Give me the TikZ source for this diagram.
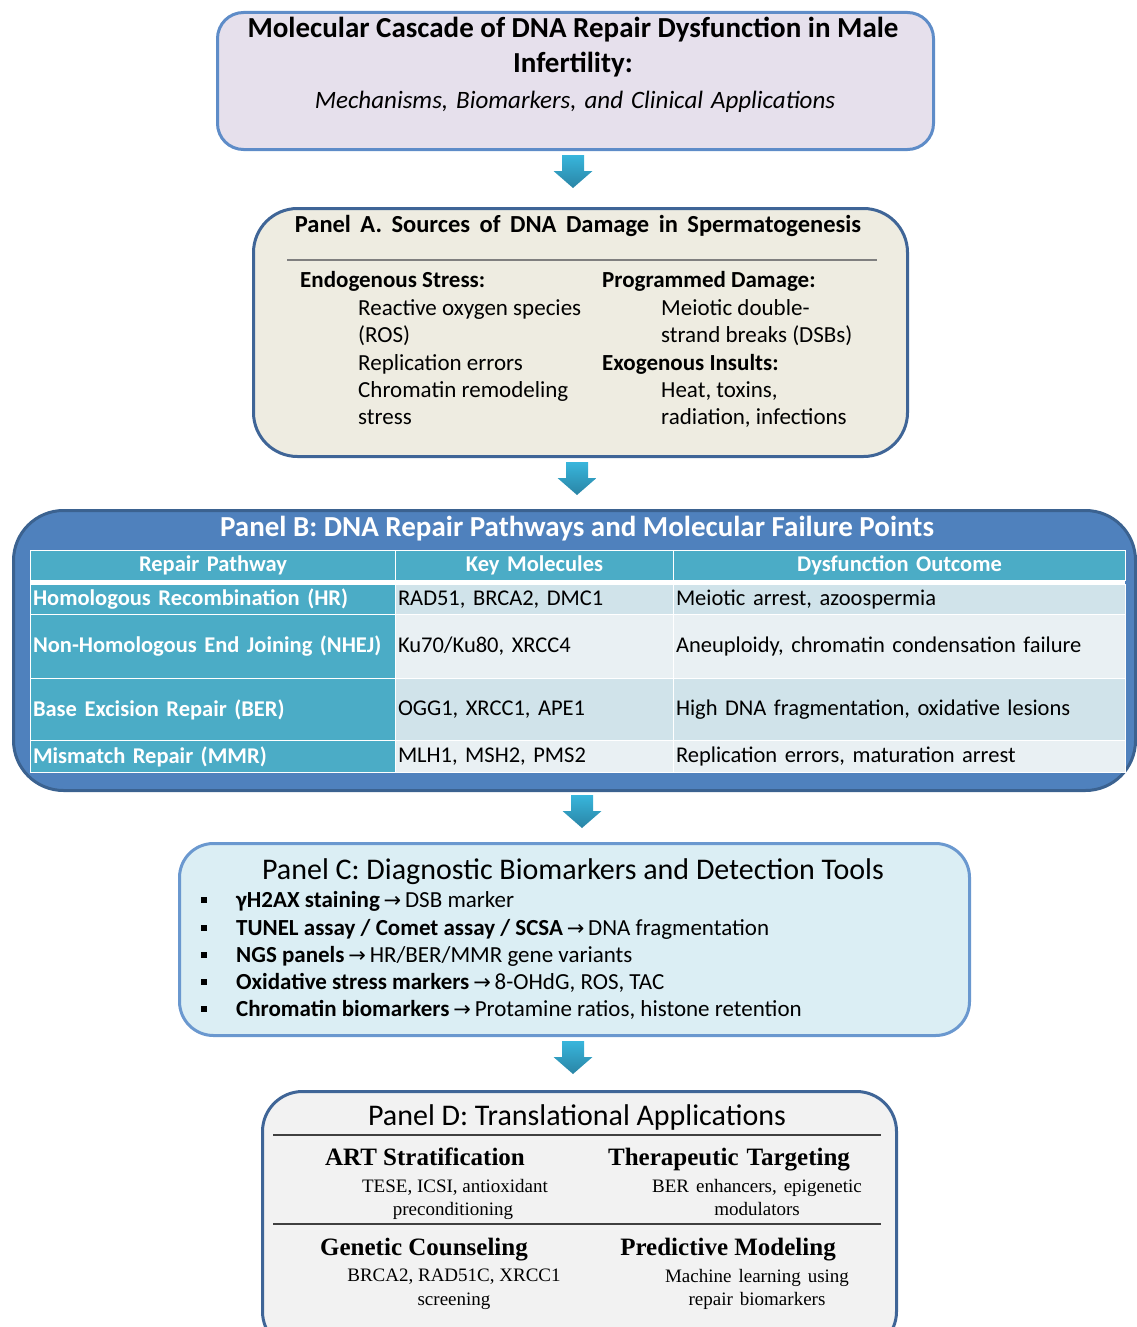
\documentclass[tikz,border=0pt]{standalone}
\usepackage{fontspec}
\setmainfont{Carlito}
\newfontfamily\serifD{Liberation Serif}
\newfontfamily\arrowfont{DejaVu Sans}
\usetikzlibrary{calc}

\definecolor{titlefill}{HTML}{E6E0EC}
\definecolor{titleborder}{HTML}{5E8CC8}
\definecolor{afill}{HTML}{EEECE1}
\definecolor{aborder}{HTML}{3F6597}
\definecolor{bfill}{HTML}{4F81BD}
\definecolor{bborder}{HTML}{3B6290}
\definecolor{tealc}{HTML}{4BACC6}
\definecolor{rowa}{HTML}{D0E3EA}
\definecolor{rowb}{HTML}{E9F0F3}
\definecolor{cfill}{HTML}{DBEEF4}
\definecolor{cborder}{HTML}{6A98CF}
\definecolor{dfill}{HTML}{F2F2F2}
\definecolor{arrtop}{HTML}{38B6DC}
\definecolor{arrbot}{HTML}{2A84A5}
\definecolor{rulegray}{HTML}{7F7F7F}

\newcommand{\arr}{{\arrowfont\fontsize{21}{21}\selectfont →}}

\tikzset{
  x=1pt, y=-1pt,
  wsp/.style={execute at begin node={\spaceskip=#1\relax}},
  panel/.style={rectangle, line width=3pt, anchor=north west, inner sep=0pt},
  txt/.style={inner sep=0pt, anchor=mid west, yshift=-5.5pt, font=\fontsize{23}{27}\selectfont},
  ctxt/.style={inner sep=0pt, anchor=mid, yshift=-5.5pt, font=\fontsize{23}{27}\selectfont},
  bigtxt/.style={ctxt, yshift=-2.5pt},
  cell/.style={rectangle, draw=white, line width=1pt, anchor=north west, inner xsep=2.5pt, inner ysep=0pt, align=left, font=\fontsize{22.5}{26}\selectfont},
  hcell/.style={cell, fill=tealc, text=white, font=\fontsize{22.5}{26}\selectfont\bfseries},
  bullet/.style={rectangle, fill=black, minimum size=6pt, inner sep=0pt},
  dhead/.style={inner sep=0pt, anchor=mid, yshift=-5.5pt, font=\serifD\fontsize{25}{28}\selectfont\bfseries},
  dbody/.style={inner sep=0pt, anchor=mid, yshift=-5pt, font=\serifD\fontsize{19}{22}\selectfont},
  blockarrow/.pic={\shade[top color=arrtop, bottom color=arrbot]
    (-11,0) -- (11,0) -- (11,16) -- (19.5,16) -- (0,33) -- (-19.5,16) -- (-11,16) -- cycle;}
}

\begin{document}
\begin{tikzpicture}
\useasboundingbox (0,0) rectangle (1137,1327);

% ---------- Title box ----------
\node[panel, draw=titleborder, fill=titlefill, rounded corners=26pt,
  minimum width=716pt, minimum height=137pt] (title) at (216,11) {};
\node[bigtxt, font=\fontsize{29}{33}\selectfont\bfseries] (t1) at (573,27) {Molecular Cascade of DNA Repair Dysfunction in Male};
\node[bigtxt, font=\fontsize{29}{33}\selectfont\bfseries] (t2) at (573,62) {Infertility:};
\node[bigtxt, font=\fontsize{25}{29}\selectfont\itshape, wsp=8pt] (t3) at (575,98) {Mechanisms, Biomarkers, and Clinical Applications};

\pic at (573,155) {blockarrow};

% ---------- Panel A ----------
\node[panel, draw=aborder, fill=afill, rounded corners=44pt,
  minimum width=654pt, minimum height=248pt] (pA) at (252,207) {};
\node[ctxt, font=\fontsize{24.5}{28}\selectfont\bfseries, wsp=9.5pt] (aT) at (578,225) {Panel A. Sources of DNA Damage in Spermatogenesis};
\draw[rulegray, line width=1.5pt] (287,260) -- (877,260);
\node[txt, font=\fontsize{23}{27}\selectfont\bfseries] (a1) at (300,280) {Endogenous Stress:};
\node[txt] (a2) at (358,308) {Reactive oxygen species};
\node[txt] (a3) at (358,335) {(ROS)};
\node[txt] (a4) at (358,363) {Replication errors};
\node[txt] (a5) at (358,390) {Chromatin remodeling};
\node[txt] (a6) at (358,417) {stress};
\node[txt, font=\fontsize{23}{27}\selectfont\bfseries] (b1) at (602,280) {Programmed Damage:};
\node[txt] (b2) at (661,308) {Meiotic double-};
\node[txt] (b3) at (661,335) {strand breaks (DSBs)};
\node[txt, font=\fontsize{23}{27}\selectfont\bfseries] (b4) at (602,363) {Exogenous Insults:};
\node[txt] (b5) at (661,390) {Heat, toxins,};
\node[txt] (b6) at (661,417) {radiation, infections};

\pic at (577,462) {blockarrow};

% ---------- Panel B ----------
\node[panel, draw=bborder, fill=bfill, rounded corners=50pt,
  minimum width=1122pt, minimum height=280pt] (pB) at (12,509) {};
\node[bigtxt, text=white, font=\fontsize{29}{33}\selectfont\bfseries] (bT) at (577,526) {Panel B: DNA Repair Pathways and Molecular Failure Points};
% header
\node[hcell, minimum height=30pt, text width=360pt, align=center] (h1) at (30,550) {Repair Pathway};
\node[hcell, minimum height=30pt, text width=273pt, align=center] (h2) at (395,550) {Key Molecules};
\node[hcell, minimum height=30pt, text width=447pt, align=center] (h3) at (673,550) {Dysfunction Outcome};
\fill[white] (30,580) rectangle (1125,584);
% row 1
\node[hcell, minimum height=30pt, text width=360pt] (r1a) at (30,584) {Homologous Recombination (HR)};
\node[cell, fill=rowa, minimum height=30pt, text width=273pt] (r1b) at (395,584) {RAD51, BRCA2, DMC1};
\node[cell, fill=rowa, minimum height=30pt, text width=447pt] (r1c) at (673,584) {Meiotic arrest, azoospermia};
% row 2
\node[hcell, minimum height=64pt, text width=360pt] (r2a) at (30,614) {Non-Homologous End Joining (NHEJ)};
\node[cell, fill=rowb, minimum height=64pt, text width=273pt] (r2b) at (395,614) {Ku70/Ku80, XRCC4};
\node[cell, fill=rowb, minimum height=64pt, text width=447pt] (r2c) at (673,614) {Aneuploidy, chromatin condensation failure};
% row 3
\node[hcell, minimum height=62pt, text width=360pt] (r3a) at (30,678) {Base Excision Repair (BER)};
\node[cell, fill=rowa, minimum height=62pt, text width=273pt] (r3b) at (395,678) {OGG1, XRCC1, APE1};
\node[cell, fill=rowa, minimum height=62pt, text width=447pt] (r3c) at (673,678) {High DNA fragmentation, oxidative lesions};
% row 4
\node[hcell, minimum height=32pt, text width=360pt] (r4a) at (30,740) {Mismatch Repair (MMR)};
\node[cell, fill=rowb, minimum height=32pt, text width=273pt] (r4b) at (395,740) {MLH1, MSH2, PMS2};
\node[cell, fill=rowb, minimum height=32pt, text width=447pt] (r4c) at (673,740) {Replication errors, maturation arrest};

\pic at (582,795) {blockarrow};

% ---------- Panel C ----------
\node[panel, draw=cborder, fill=cfill, rounded corners=34pt,
  minimum width=790pt, minimum height=192pt] (pC) at (178,842) {};
\node[bigtxt, font=\fontsize{30}{34}\selectfont] (cT) at (573,869) {Panel C: Diagnostic Biomarkers and Detection Tools};
\node[bullet] (k1) at (204,900) {};
\node[bullet] (k2) at (204,928) {};
\node[bullet] (k3) at (204,955) {};
\node[bullet] (k4) at (204,982) {};
\node[bullet] (k5) at (204,1009) {};
\node[txt] (c1) at (236,900) {\textbf{γH2AX staining}\,\arr\,DSB marker};
\node[txt] (c2) at (236,928) {\textbf{TUNEL assay / Comet assay / SCSA}\,\arr\,DNA fragmentation};
\node[txt] (c3) at (236,955) {\textbf{NGS panels}\,\arr\,HR/BER/MMR gene variants};
\node[txt] (c4) at (236,982) {\textbf{Oxidative stress markers}\,\arr\,8-OHdG, ROS, TAC};
\node[txt] (c5) at (236,1009) {\textbf{Chromatin biomarkers}\,\arr\,Protamine ratios, histone retention};

\pic at (573,1041) {blockarrow};

% ---------- Panel D ----------
\node[panel, draw=aborder, fill=dfill, rounded corners=40pt,
  minimum width=634pt, minimum height=260pt] (pD) at (261,1090) {};
\node[bigtxt, font=\fontsize{30}{34}\selectfont] (dT) at (577,1115) {Panel D: Translational Applications};
\draw[black!75, line width=1.5pt] (273,1135) -- (881,1135);
\draw[black!75, line width=1.5pt] (273,1224) -- (881,1224);
\node[dhead] (d1) at (425,1158) {ART Stratification};
\node[dbody] (d1b) at (455,1185) {TESE, ICSI, antioxidant};
\node[dbody] (d1c) at (453,1208) {preconditioning};
\node[dhead, wsp=8pt] (d2) at (729,1158) {Therapeutic Targeting};
\node[dbody, wsp=7pt] (d2b) at (757,1185) {BER enhancers, epigenetic};
\node[dbody] (d2c) at (757,1208) {modulators};
\node[dhead] (d3) at (424,1248) {Genetic Counseling};
\node[dbody] (d3b) at (454,1274) {BRCA2, RAD51C, XRCC1};
\node[dbody] (d3c) at (454,1298) {screening};
\node[dhead] (d4) at (728,1248) {Predictive Modeling};
\node[dbody, wsp=7pt] (d4b) at (757,1275) {Machine learning using};
\node[dbody, wsp=7pt] (d4c) at (757,1298) {repair biomarkers};
\end{tikzpicture}
\end{document}
